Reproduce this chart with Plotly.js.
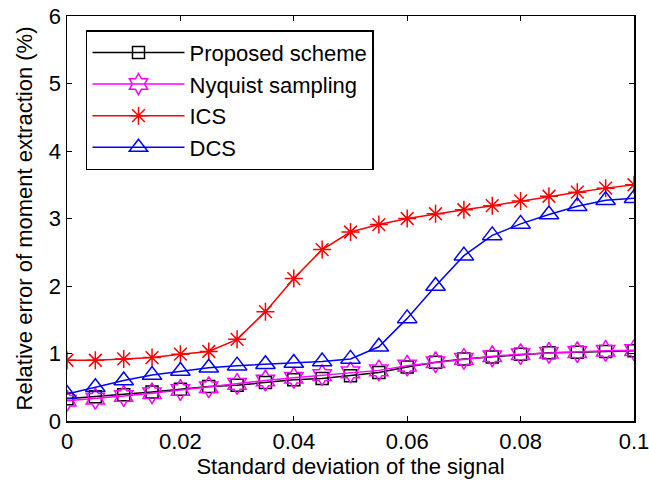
<!DOCTYPE html>
<html>
<head>
<meta charset="utf-8">
<script src="https://cdn.plot.ly/plotly-3.0.1.min.js"></script>
<style>html,body{margin:0;padding:0;background:#fff;}#chart{width:649px;height:486px;}</style>
</head>
<body>
<div id="chart"></div>
<script>
var sigma = [0, 0.005, 0.01, 0.015, 0.02, 0.025, 0.03, 0.035, 0.04, 0.045, 0.05,
             0.055, 0.06, 0.065, 0.07, 0.075, 0.08, 0.085, 0.09, 0.095, 0.1];
var proposed = [0.33, 0.36, 0.39, 0.43, 0.47, 0.51, 0.53, 0.57, 0.61, 0.63, 0.67,
                0.72, 0.80, 0.87, 0.92, 0.95, 0.99, 1.01, 1.02, 1.03, 1.04];
var nyquist = [0.30, 0.33, 0.37, 0.41, 0.46, 0.50, 0.55, 0.60, 0.64, 0.68, 0.72,
               0.75, 0.82, 0.87, 0.92, 0.96, 0.99, 1.01, 1.02, 1.04, 1.05];
var ics = [0.90, 0.90, 0.92, 0.94, 0.99, 1.03, 1.21, 1.62, 2.11, 2.54, 2.80,
           2.91, 3.00, 3.07, 3.13, 3.19, 3.26, 3.33, 3.39, 3.45, 3.50];
var dcs = [0.40, 0.50, 0.60, 0.68, 0.74, 0.79, 0.82, 0.84, 0.86, 0.88, 0.92,
           1.10, 1.52, 2.00, 2.45, 2.75, 2.92, 3.06, 3.18, 3.27, 3.30];
var names = ["Proposed scheme", "Nyquist sampling", "ICS", "DCS"];
var colors = ["#000000", "#ff00ff", "#ff0000", "#0000ff"];
var symbols = ["square-open", "hexagram-open", "asterisk-open", "triangle-up-open"];
var sizes = [12, 16, 15, 17];
var series = [proposed, nyquist, ics, dcs];

var traces = series.map(function (ys, i) {
  return {
    x: sigma, y: ys, name: names[i], type: "scatter", mode: "lines+markers",
    line: {color: colors[i], width: 1.5},
    marker: {symbol: symbols[i], size: sizes[i], color: colors[i],
             line: {color: colors[i], width: 1.5}}
  };
});

var fontFam = "Liberation Sans, Arial, sans-serif";
var layout = {
  width: 649, height: 486,
  margin: {l: 67, r: 15, t: 16, b: 65},
  paper_bgcolor: "#fff", plot_bgcolor: "#fff",
  font: {family: fontFam, size: 22, color: "#000"},
  showlegend: true,
  legend: {x: 0.0335, y: 0.965, xanchor: "left", yanchor: "top",
           bgcolor: "#fff", bordercolor: "#000", borderwidth: 1.5,
           font: {family: fontFam, size: 22, color: "#000"},
           itemwidth: 92, tracegroupgap: 0},
  xaxis: {
    range: [0, 0.1], tickvals: [0, 0.02, 0.04, 0.06, 0.08, 0.1],
    ticktext: ["0", "0.02", "0.04", "0.06", "0.08", "0.1"],
    ticklabeloverflow: "allow",
    ticks: "inside", ticklen: 5, tickwidth: 1, tickcolor: "#000",
    showline: true, linecolor: "#000", linewidth: 1.5, mirror: "ticks",
    showgrid: false, zeroline: false,
    title: {text: "Standard deviation of the signal", font: {family: fontFam, size: 22}, standoff: 5}
  },
  yaxis: {
    range: [0, 6], tickvals: [0, 1, 2, 3, 4, 5, 6],
    ticklabeloverflow: "allow",
    ticks: "inside", ticklen: 5, tickwidth: 1, tickcolor: "#000",
    showline: true, linecolor: "#000", linewidth: 1.5, mirror: "ticks",
    showgrid: false, zeroline: false,
    title: {text: "Relative error of moment extraction (%)", font: {family: fontFam, size: 22}, standoff: 10}
  }
};
Plotly.newPlot("chart", traces, layout, {staticPlot: true, displayModeBar: false});
</script>
</body>
</html>
